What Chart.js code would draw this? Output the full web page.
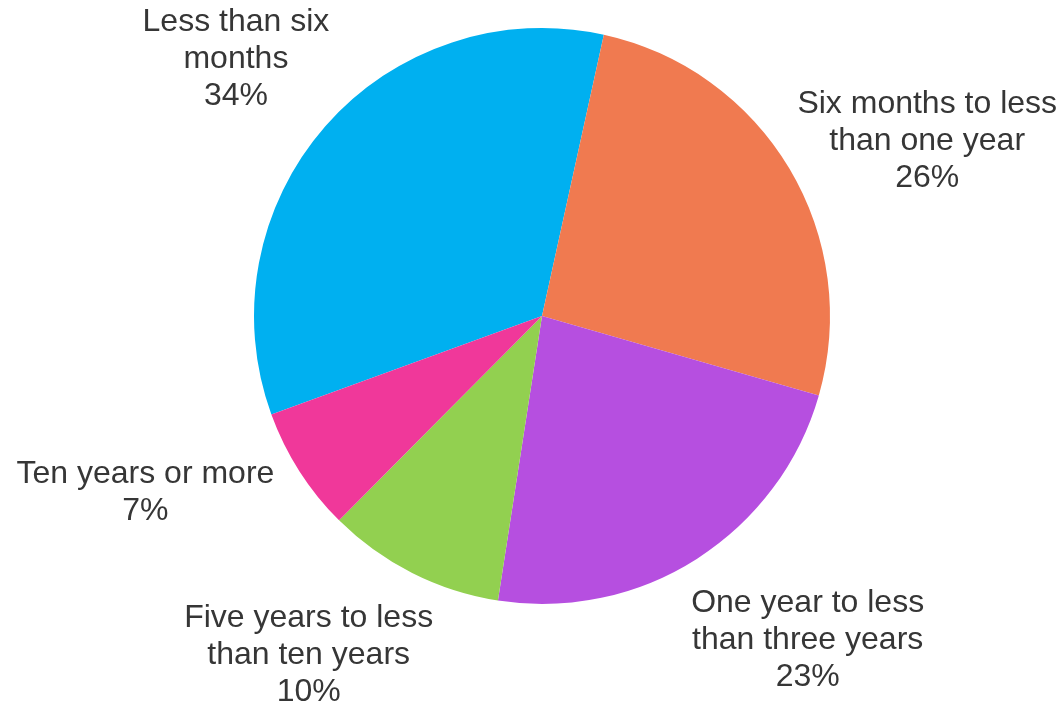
<!DOCTYPE html>
<html>
<head>
<meta charset="utf-8">
<title>Time period pie</title>
<script src="https://cdn.jsdelivr.net/npm/chart.js@4"></script>
<style>
    body { margin: 0; background: #ffffff; }
    #wrap { width: 1064px; height: 706px; }
</style>
</head>
<body>
<div id="wrap"><canvas id="pieChart" width="1064" height="706"></canvas></div>
<script>
// categories (one array per label, split the way the chart wraps them)
const categories = [
    ["Less than six", "months"],
    ["Six months to less", "than one year"],
    ["One year to less", "than three years"],
    ["Five years to less", "than ten years"],
    ["Ten years or more"]
];
const shares = [34, 26, 23, 10, 7];
const sliceColors = ["#00B0F0", "#F07A50", "#B64FE0", "#92D050", "#F0389A"];

// small hand nudges for the outside labels (text only)
const labelNudge = [[12, -11], [0, 16], [-14, 10], [29, 6], [-17, -15]];

const lineH = 37;

// 👉 labels sit outside the pie, next to the middle of each slice
const outsideLabels = {
    id: "outsideLabels",
    afterDatasetsDraw(chart) {
        const ctx = chart.ctx;
        const meta = chart.getDatasetMeta(0);

        ctx.save();
        ctx.font = "32px 'Liberation Sans', Arial, sans-serif";
        ctx.fillStyle = "#363636";
        ctx.textAlign = "center";
        ctx.textBaseline = "middle";

        meta.data.forEach((arc, i) => {
            const lines = categories[i].concat([shares[i] + "%"]);
            const mid = (arc.startAngle + arc.endAngle) / 2;
            const r = arc.outerRadius;
            const px = arc.x + Math.cos(mid) * r;
            const py = arc.y + Math.sin(mid) * r;

            const hw = Math.max(...lines.map(l => ctx.measureText(l).width)) / 2;
            const hh = lines.length * lineH / 2;

            const cx = px + Math.sign(Math.cos(mid)) * (hw + 8) + labelNudge[i][0];
            const cy = py + Math.sin(mid) * (hh + 30) + labelNudge[i][1];

            lines.forEach((l, k) => {
                ctx.fillText(l, cx, cy - hh + lineH * (k + 0.5));
            });
        });

        ctx.restore();
    }
};

const ctx = document.getElementById("pieChart").getContext("2d");

new Chart(ctx, {
    type: "pie",
    data: {
        labels: categories,
        datasets: [{
            data: shares,
            backgroundColor: sliceColors,
            borderWidth: 0
        }]
    },
    options: {
        responsive: false,
        animation: false,
        rotation: -110,
        layout: {
            padding: { left: 20, right: 0, top: 28, bottom: 102 }
        },
        plugins: {
            legend: { display: false },
            tooltip: { enabled: false }
        }
    },
    plugins: [outsideLabels]
});
</script>
</body>
</html>
